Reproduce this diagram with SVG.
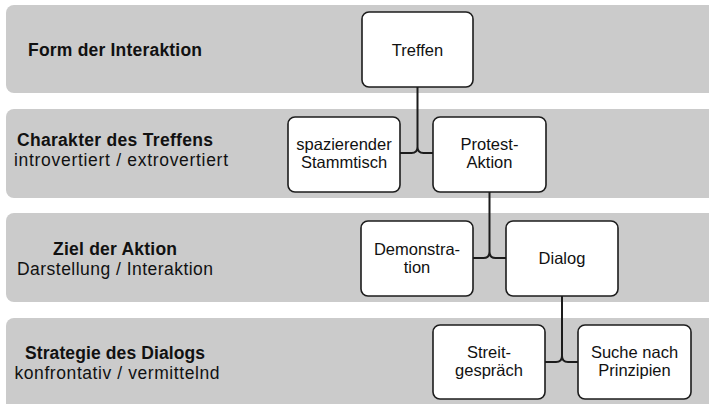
<svg xmlns="http://www.w3.org/2000/svg" width="709" height="404" viewBox="0 0 709 404">
<style>
.band{fill:#cbcbcb}
.box{fill:#ffffff;stroke:#1c1c1c;stroke-width:1.6}
.lbl{font-family:"Liberation Sans",Arial,sans-serif;fill:#111;text-anchor:middle}
.hb{font-size:17.5px;font-weight:bold}
.hr{font-size:17.5px}
.nt{font-family:"Liberation Sans",Arial,sans-serif;font-size:16.5px;fill:#111;text-anchor:middle}
.con{fill:none;stroke:#1c1c1c;stroke-width:2}
</style>
<rect width="709" height="404" fill="#ffffff"/>
<g id="bands">
<rect class="band" x="6" y="5" width="720" height="88" rx="8"/>
<rect class="band" x="6" y="109" width="720" height="89" rx="8"/>
<rect class="band" x="6" y="213" width="720" height="89" rx="8"/>
<rect class="band" x="6" y="318" width="720" height="100" rx="8"/>
</g>
<g id="row-labels">
<text class="lbl hb" x="115" y="56" textLength="174" lengthAdjust="spacing">Form der Interaktion</text>
<text class="lbl hb" x="115" y="146" textLength="196" lengthAdjust="spacing">Charakter des Treffens</text>
<text class="lbl hr" x="121" y="166" textLength="214" lengthAdjust="spacing">introvertiert / extrovertiert</text>
<text class="lbl hb" x="115" y="255" textLength="124" lengthAdjust="spacing">Ziel der Aktion</text>
<text class="lbl hr" x="115" y="275" textLength="196" lengthAdjust="spacing">Darstellung / Interaktion</text>
<text class="lbl hb" x="115" y="359" textLength="180" lengthAdjust="spacing">Strategie des Dialogs</text>
<text class="lbl hr" x="117" y="379" textLength="205" lengthAdjust="spacing">konfrontativ / vermittelnd</text>
</g>
<g id="connectors">
<path class="con" d="M417.5,87 V147 Q417.5,153 411.5,153 H400 M417.5,147 Q417.5,153 423.5,153 H433"/>
<path class="con" d="M489.5,192 V252 Q489.5,258 483.5,258 H473 M489.5,252 Q489.5,258 495.5,258 H506"/>
<path class="con" d="M562,296 V356 Q562,362 556,362 H545 M562,356 Q562,362 568,362 H578"/>
</g>
<g id="node-treffen">
<rect class="box" x="362" y="12" width="111" height="75" rx="7"/>
<text class="nt" x="417.5" y="56">Treffen</text>
</g>
<g id="node-stammtisch">
<rect class="box" x="288" y="117" width="112" height="75" rx="7"/>
<text class="nt" x="344" y="150">spazierender</text>
<text class="nt" x="344" y="168">Stammtisch</text>
</g>
<g id="node-protest">
<rect class="box" x="433" y="117" width="113" height="75" rx="7"/>
<text class="nt" x="489.5" y="150">Protest-</text>
<text class="nt" x="489.5" y="168">Aktion</text>
</g>
<g id="node-demonstration">
<rect class="box" x="361" y="221" width="112" height="75" rx="7"/>
<text class="nt" x="417" y="255">Demonstra-</text>
<text class="nt" x="417" y="273">tion</text>
</g>
<g id="node-dialog">
<rect class="box" x="506" y="221" width="112" height="75" rx="7"/>
<text class="nt" x="562" y="264">Dialog</text>
</g>
<g id="node-streit">
<rect class="box" x="433" y="325" width="112" height="74" rx="7"/>
<text class="nt" x="489" y="358">Streit-</text>
<text class="nt" x="489" y="376">gespräch</text>
</g>
<g id="node-prinzipien">
<rect class="box" x="578" y="325" width="113" height="74" rx="7"/>
<text class="nt" x="634.5" y="358">Suche nach</text>
<text class="nt" x="634.5" y="376">Prinzipien</text>
</g>
</svg>
